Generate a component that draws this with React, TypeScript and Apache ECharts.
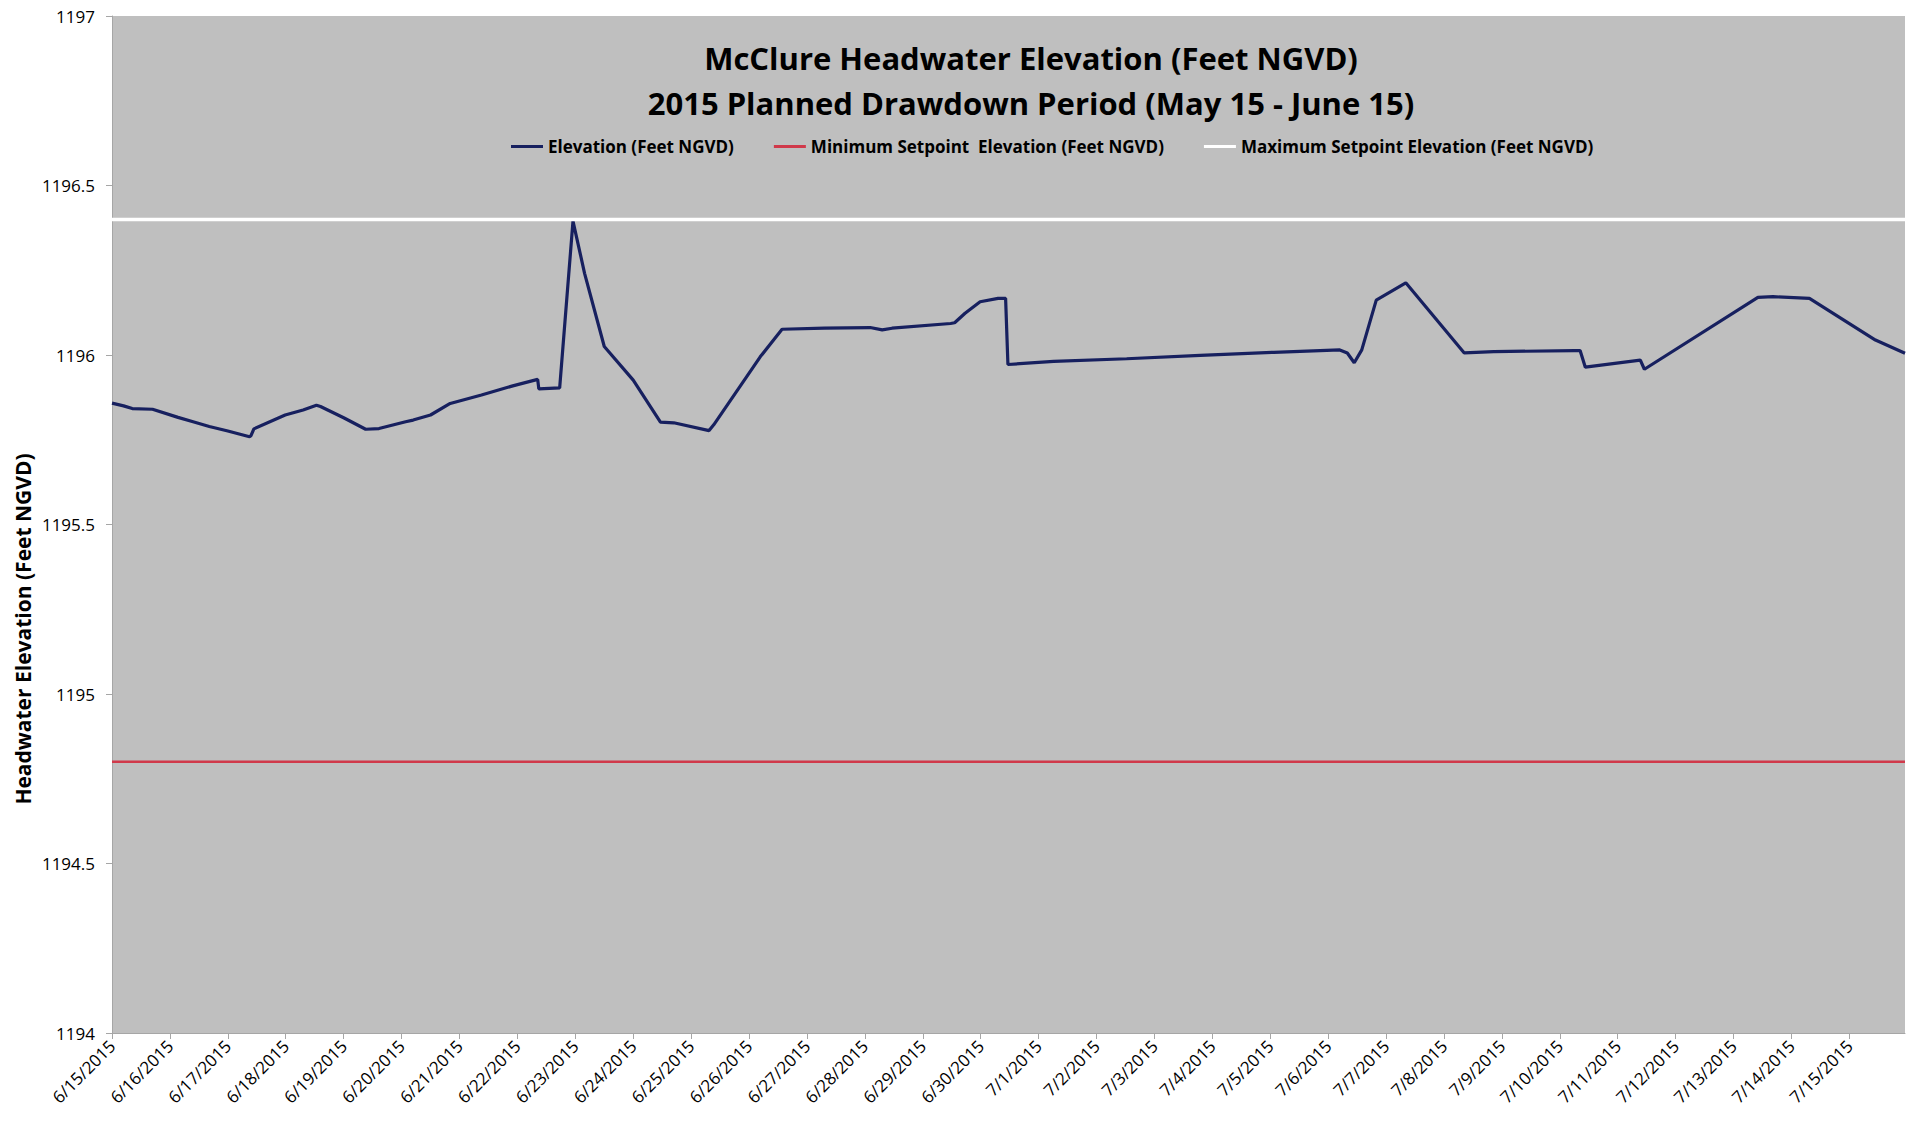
import React, { useEffect, useRef } from 'react';
import * as echarts from 'echarts';

const titleLines = ['McClure Headwater Elevation (Feet NGVD)', '2015 Planned Drawdown Period (May 15 - June 15)'];
const yAxisTitle = 'Headwater Elevation (Feet NGVD)';
const seriesNames = ['Elevation (Feet NGVD)', 'Minimum Setpoint  Elevation (Feet NGVD)', 'Maximum Setpoint Elevation (Feet NGVD)'];

const dateLabels = [
  '6/15/2015', '6/16/2015', '6/17/2015', '6/18/2015', '6/19/2015', '6/20/2015', '6/21/2015', '6/22/2015',
  '6/23/2015', '6/24/2015', '6/25/2015', '6/26/2015', '6/27/2015', '6/28/2015', '6/29/2015', '6/30/2015',
  '7/1/2015', '7/2/2015', '7/3/2015', '7/4/2015', '7/5/2015', '7/6/2015', '7/7/2015', '7/8/2015',
  '7/9/2015', '7/10/2015', '7/11/2015', '7/12/2015', '7/13/2015', '7/14/2015', '7/15/2015',
];

// day offset from 6/15/2015 00:00
const elevDays = [
  0.0, 0.2, 0.35, 0.7, 1.14, 1.4, 1.68, 2.0, 2.375, 2.4, 2.45, 2.99, 3.3, 3.53, 3.6, 4.0, 4.38, 4.61,
  5.07, 5.2, 5.5, 5.84, 6.38, 6.92, 7.35, 7.37, 7.73, 7.96, 8.16, 8.5, 9.0, 9.47, 9.7, 10.31, 10.39,
  11.19, 11.57, 12.3, 13.09, 13.3, 13.47, 14.48, 14.55, 14.73, 14.99, 15.3, 15.43, 15.47, 16.26, 17.52,
  18.79, 20.06, 21.2, 21.33, 21.45, 21.58, 21.83, 22.34, 23.35, 23.86, 25.25, 25.35, 25.44, 26.39, 26.46,
  28.42, 28.68, 29.31, 30.45, 30.96,
];
const elevValues = [
  1195.858, 1195.85, 1195.842, 1195.84, 1195.816, 1195.803, 1195.789, 1195.776, 1195.759, 1195.762,
  1195.782, 1195.823, 1195.838, 1195.852, 1195.848, 1195.815, 1195.781, 1195.783, 1195.803, 1195.808,
  1195.823, 1195.857, 1195.882, 1195.909, 1195.928, 1195.9, 1195.903, 1196.395, 1196.241, 1196.025,
  1195.926, 1195.802, 1195.8, 1195.777, 1195.794, 1195.994, 1196.076, 1196.079, 1196.081, 1196.074,
  1196.079, 1196.093, 1196.095, 1196.123, 1196.157, 1196.167, 1196.167, 1195.972, 1195.981, 1195.989,
  1195.999, 1196.008, 1196.015, 1196.006, 1195.977, 1196.015, 1196.162, 1196.213, 1196.006, 1196.01,
  1196.013, 1196.013, 1195.964, 1195.985, 1195.958, 1196.17, 1196.172, 1196.167, 1196.044, 1196.005,
];

const minSetpoint = 1194.8;
const maxSetpoint = 1196.4;
const xStart = 0;
const xEnd = 30.96;
const yMin = 1194;
const yMax = 1197;
const yStep = 0.5;

const FONT = '"Open Sans", sans-serif';

export default function App() {
  const ref = useRef<HTMLDivElement>(null);
  useEffect(() => {
    if (!ref.current) return;
    const chart = echarts.init(ref.current, undefined, { renderer: 'svg' });
    const elevData = elevDays.map((d, i) => [d, elevValues[i]]);
    chart.setOption({
      animation: false,
      backgroundColor: '#ffffff',
      textStyle: { fontFamily: FONT },
      grid: {
        left: 112, right: 6, top: 16, bottom: 88,
        show: true, backgroundColor: '#bfbfbf', borderWidth: 0, containLabel: false,
      },
      legend: {
        left: 506, top: 133,
        itemWidth: 32, itemHeight: 3, itemGap: 40, icon: 'rect',
        textStyle: { fontFamily: FONT, fontWeight: 'bold', fontSize: 17, color: '#000' },
        data: seriesNames,
      },
      graphic: [
        {
          type: 'text', x: 1031, y: 58,
          style: { text: titleLines[0], font: `bold 31px ${FONT}`, fill: '#000', textAlign: 'center', textVerticalAlign: 'middle', align: 'center', verticalAlign: 'middle' },
        },
        {
          type: 'text', x: 1031, y: 103,
          style: { text: titleLines[1], font: `bold 31px ${FONT}`, fill: '#000', textAlign: 'center', textVerticalAlign: 'middle', align: 'center', verticalAlign: 'middle' },
        },
        {
          type: 'text', x: 23, y: 629, rotation: Math.PI / 2,
          style: { text: yAxisTitle, font: `bold 21px ${FONT}`, fill: '#000', textAlign: 'center', textVerticalAlign: 'middle', align: 'center', verticalAlign: 'middle' },
        },
      ],
      xAxis: {
        type: 'value', min: xStart, max: xEnd, interval: 1,
        splitLine: { show: false },
        axisLine: { show: true, lineStyle: { color: '#a6a6a6', width: 1 } },
        axisTick: { show: true, length: 6, lineStyle: { color: '#a6a6a6' } },
        axisLabel: {
          rotate: 45, margin: 10, fontSize: 17, color: '#000', fontFamily: FONT,
          showMaxLabel: false,
          formatter: (v: number) => (Number.isInteger(v) && dateLabels[v]) ? dateLabels[v] : '',
        },
      },
      yAxis: {
        type: 'value', min: yMin, max: yMax, interval: yStep,
        splitLine: { show: false },
        axisLine: { show: true, lineStyle: { color: '#a6a6a6', width: 1 } },
        axisTick: { show: true, length: 6, lineStyle: { color: '#a6a6a6' } },
        axisLabel: { margin: 17, fontSize: 17, color: '#000', fontFamily: FONT, formatter: (v: number) => String(v) },
      },
      series: [
        {
          name: seriesNames[0], type: 'line', data: elevData, symbol: 'none', z: 3,
          lineStyle: { color: '#17205f', width: 3.2 }, itemStyle: { color: '#17205f' },
        },
        {
          name: seriesNames[1], type: 'line', data: [[xStart, minSetpoint], [xEnd, minSetpoint]], symbol: 'none', z: 2,
          lineStyle: { color: '#d0394a', width: 2.5 }, itemStyle: { color: '#d0394a' },
        },
        {
          name: seriesNames[2], type: 'line', data: [[xStart, maxSetpoint], [xEnd, maxSetpoint]], symbol: 'none', z: 4,
          lineStyle: { color: '#ffffff', width: 3.5 }, itemStyle: { color: '#ffffff' },
        },
      ],
    });
    return () => chart.dispose();
  }, []);
  return <div ref={ref} style={{ position: 'absolute', left: 0, top: 0, width: 1911, height: 1121 }} />;
}
